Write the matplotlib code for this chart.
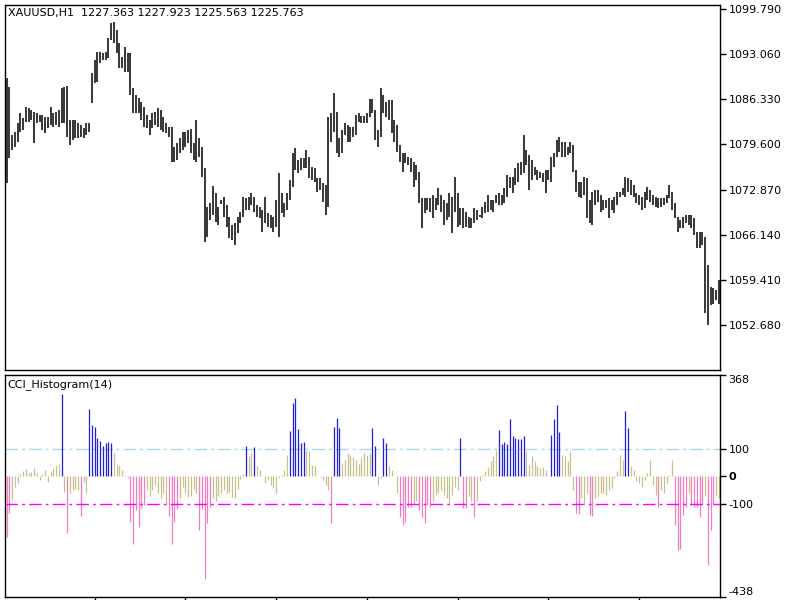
import matplotlib
matplotlib.use('Agg')
import matplotlib.pyplot as plt
import numpy as np

# XAUUSD H1 bars (high / low)
highs = [1089.50, 1088.16, 1081.00, 1081.45, 1082.79, 1084.28, 1083.54, 1085.18, 1085.03, 1084.73,
         1084.43, 1084.28, 1083.98, 1083.98, 1083.69, 1083.69, 1085.18, 1084.28, 1084.43, 1084.73,
         1088.01, 1088.16, 1088.31, 1083.24, 1083.24, 1083.24, 1082.79, 1082.49, 1082.05, 1082.79,
         1082.79, 1090.25, 1092.18, 1093.38, 1093.38, 1093.23, 1093.38, 1095.46, 1097.70, 1097.85,
         1096.66, 1094.72, 1092.63, 1094.12, 1093.23, 1093.23, 1088.01, 1086.97, 1086.52, 1085.92,
         1085.18, 1083.98, 1083.24, 1084.28, 1084.43, 1085.03, 1084.73, 1083.69, 1082.79, 1082.19,
         1082.19, 1079.21, 1079.81, 1080.55, 1081.45, 1081.45, 1081.75, 1081.90, 1079.81, 1083.24,
         1080.55, 1079.21, 1076.08,
         1070.27, 1070.86, 1073.40, 1072.35, 1070.27, 1071.31, 1071.76, 1070.56, 1068.78, 1067.58,
         1067.88, 1068.78, 1069.52, 1071.76, 1071.61, 1071.76, 1072.35, 1071.76, 1070.56, 1070.27,
         1069.82, 1071.76, 1069.37, 1069.07, 1068.78, 1071.31, 1075.34, 1072.35, 1070.86, 1072.35,
         1074.29, 1078.32, 1079.06, 1077.27, 1077.57, 1077.57, 1078.77, 1077.72, 1076.23, 1076.08,
         1074.59, 1074.59, 1073.85, 1073.55, 1083.69, 1084.28, 1087.26, 1084.43, 1080.55, 1081.75,
         1082.79, 1082.49, 1082.19, 1082.19, 1083.98, 1084.28, 1083.83, 1083.83, 1084.28, 1086.37,
         1086.37, 1084.73, 1081.75, 1088.01, 1086.97, 1085.92, 1086.22, 1086.22, 1083.24, 1082.49,
         1079.51, 1078.32, 1078.32, 1077.72, 1077.57, 1076.98, 1076.53, 1075.49, 1071.61, 1071.61,
         1071.61, 1071.61, 1072.05, 1071.61, 1073.10, 1072.05, 1071.31, 1070.86, 1072.35, 1071.76,
         1074.74, 1072.35, 1070.12, 1070.12, 1069.52, 1068.78, 1068.63, 1070.12, 1069.82, 1069.07,
         1070.27, 1071.01, 1072.05, 1071.31, 1071.31, 1072.05, 1072.35, 1072.05, 1073.10, 1075.04,
         1074.74, 1074.74, 1076.08, 1076.83, 1076.98, 1081.00, 1078.77, 1078.02, 1077.27, 1076.23,
         1075.78, 1075.49, 1075.34, 1075.78, 1075.78, 1077.72, 1078.32, 1080.26, 1080.70, 1079.96,
         1079.96, 1079.21, 1079.96, 1079.51, 1075.78, 1073.99, 1073.99, 1074.74, 1074.59, 1071.31,
         1072.50, 1072.80, 1072.80, 1072.05, 1071.31, 1071.31, 1071.61, 1071.31, 1071.76, 1072.50,
         1072.50, 1073.10, 1074.74, 1074.59, 1074.29, 1073.55, 1072.35, 1072.05, 1071.76, 1072.50,
         1073.25, 1072.80, 1072.05, 1071.76, 1071.61, 1071.61, 1071.61, 1072.05, 1073.55, 1072.50,
         1070.86, 1068.78, 1068.33, 1068.78, 1069.07, 1069.07, 1069.07, 1068.63, 1066.54, 1066.54,
         1066.54, 1065.79, 1061.62, 1058.34, 1058.19, 1057.89, 1059.38]
lows = [1073.84, 1077.57, 1078.77, 1079.21, 1079.96, 1081.45, 1081.75, 1082.94, 1082.94, 1083.24,
        1079.81, 1082.79, 1082.94, 1081.75, 1081.30, 1082.05, 1082.49, 1082.19, 1082.49, 1082.19,
        1082.79, 1082.79, 1080.70, 1079.51, 1080.26, 1080.55, 1080.55, 1080.70, 1080.55, 1081.00,
        1081.45, 1085.77, 1088.76, 1088.90, 1091.74, 1092.18, 1092.18, 1092.48, 1095.17, 1094.72,
        1093.23, 1090.99, 1090.99, 1090.40, 1090.40, 1086.97, 1084.28, 1084.28, 1084.28, 1083.24,
        1082.19, 1082.05, 1081.00, 1082.05, 1082.49, 1082.19, 1081.75, 1081.45, 1081.30, 1080.70,
        1076.98, 1076.98, 1077.27, 1078.32, 1078.77, 1079.21, 1079.81, 1078.32, 1077.27, 1076.98,
        1077.72, 1074.74, 1065.05,
        1065.79, 1068.33, 1069.07, 1068.03, 1067.58, 1070.71, 1068.78, 1067.28, 1065.64, 1065.35,
        1064.60, 1066.39, 1067.88, 1068.78, 1069.82, 1069.82, 1070.56, 1069.52, 1068.78, 1068.63,
        1066.54, 1067.88, 1067.28, 1067.13, 1066.54, 1067.28, 1065.79, 1069.37, 1068.78, 1069.82,
        1071.31, 1073.25, 1075.78, 1075.34, 1075.78, 1076.08, 1076.08, 1074.59, 1074.29, 1073.99,
        1072.50, 1072.80, 1071.01, 1069.07, 1070.27, 1079.96, 1081.45, 1078.32, 1077.72, 1078.32,
        1081.00, 1079.96, 1079.96, 1080.70, 1081.00, 1082.94, 1082.79, 1082.79, 1082.79, 1083.69,
        1084.28, 1080.26, 1079.21, 1080.70, 1084.28, 1083.69, 1083.24, 1081.30, 1079.96, 1078.47,
        1076.98, 1075.49, 1076.83, 1076.53, 1075.49, 1073.25, 1074.29, 1070.86, 1067.13, 1069.37,
        1069.82, 1069.52, 1068.63, 1069.82, 1070.56, 1069.52, 1067.58, 1068.33, 1068.78, 1066.39,
        1069.52, 1067.28, 1067.58, 1067.13, 1067.28, 1067.13, 1067.13, 1067.88, 1068.33, 1068.78,
        1068.63, 1069.37, 1069.52, 1069.82, 1069.52, 1070.86, 1070.56, 1070.56, 1070.86, 1071.76,
        1073.10, 1072.35, 1073.55, 1073.99, 1075.04, 1075.34, 1076.53, 1072.80, 1074.29, 1075.04,
        1074.29, 1074.59, 1073.99, 1072.35, 1074.29, 1073.99, 1076.23, 1077.72, 1078.47, 1077.72,
        1077.72, 1078.02, 1078.32, 1075.49, 1072.50, 1071.76, 1071.61, 1072.05, 1068.63, 1067.88,
        1067.58, 1070.56, 1071.01, 1069.52, 1069.82, 1070.12, 1068.63, 1069.82, 1069.37, 1070.56,
        1071.76, 1072.05, 1071.76, 1072.50, 1072.05, 1071.76, 1070.86, 1070.56, 1069.82, 1070.12,
        1071.31, 1071.01, 1070.56, 1070.27, 1070.12, 1070.27, 1070.56, 1070.86, 1071.61, 1069.82,
        1068.63, 1066.54, 1067.13, 1067.13, 1067.88, 1067.58, 1067.13, 1066.09, 1064.15, 1064.15,
        1064.60, 1054.46, 1052.67, 1055.66, 1055.87, 1056.40, 1055.87]

# CCI(14) histogram values, one per bar
cci = [-220, -134, -85, -37, -24, 10, 18, 28, 12, 15, 30, 12, -15, 8, 22, -20, 18, 30, 40, 45,
       299, -55, -207, -60, -50, -45, -50, -143, -20, -61,
       246, 185, 180, 140, 128, 110, 120, 124, 122,
       85, 43, 37, 24, 6, -6,
       -165, -244, -122, -183, -115, -105, -50, -70, -50, -30, -60, -80, -60, -100,
       -145, -245, -165, -120, -80, -40, -60, -75, -70, -45, -60, -195, -120, -372, -170,
       -110, -80, -90, -70, -60, -50, -60, -55, -75, -80, -45, -10,
       10, 112, 73, 85, 107, 37, 24, 0, -24, -12, -30, -43, -61, -6, 6, 24, 79, 165,
       268, 283, 171, 120, 124, 91, 91, 43, 39, 0, -2, -12, -30, -49, -171, 180, 211, 174, 49, 61,
       83, 76, 71, 61, 46, 67, 85, 79, 85, 176, 112, -30, -6, 140, 122, 37, 24, 2, -60,
       -146, -177, -165, -110, -112, -100, -91, -122, -146, -171, -104, -110, -91, -67,
       -61, -49, -67, -79, -98, -67, -37, -49, 140, -116, -116, -73, -91, -146, -91, -18, 5,
       20, 35, 55, 75, 95, 167, 116, 124, 116, 207,
       146, 140, 137, 134, 146, 91, 43, 73, 55, 37, 30, 34, 24, 2, 149, 207, 259, 161, 79,
       73, 55, 91, -49, -134, -137, -79, -100, -61, -140, -144, -79, -73, -61, -61, -67, -49,
       -43, -6, 18, 79, 61, 238, 177, 37, 24, -18, -24, -37, -12, 12, 61, -30, -67, -110, -49,
       -61, -24, 6, 61, -177, -268, -262, -140, -110, -61, -104, -110, -110, -146, -104,
       -73, -323, -195, -104, -73, -79]

price_ticks = [1099.790, 1093.060, 1086.330, 1079.600, 1072.870, 1066.140, 1059.410, 1052.680]
price_range = (1045.96, 1100.38)
cci_ticks = [368, 100, 0, -100, -438]
cci_levels = [100, -100]
header = 'XAUUSD,H1  1227.363 1227.923 1225.563 1225.763'
sub_title = 'CCI_Histogram(14)'

W, H = 800, 600
fig = plt.figure(figsize=(8, 6), dpi=100)
fig.patch.set_facecolor('white')

ax1 = fig.add_axes([5 / W, 1 - 370 / H, 715 / W, 365 / H])
ax2 = fig.add_axes([5 / W, 1 - 597 / H, 715 / W, 222 / H], sharex=ax1)

# price bars
n = len(highs)
x = np.arange(n)
ax1.vlines(x, lows, highs, color='black', lw=1.1)
ax1.set_xlim(-0.6, n - 0.6)
ax1.set_ylim(*price_range)
ax1.yaxis.tick_right()
ax1.set_yticks(price_ticks)
ax1.set_yticklabels([f'{p:.3f}' for p in price_ticks])
ax1.tick_params(axis='x', length=0, labelbottom=False)
ax1.text(0.004, 0.992, header, transform=ax1.transAxes, va='top', ha='left', fontsize=8)

# CCI histogram
xc = np.arange(len(cci))
cols = ['#1f1fdc' if v > 100 else ('#f47cc0' if v < -100 else '#c8c08a') for v in cci]
ax2.vlines(xc, 0, cci, colors=cols, lw=0.9)
ax2.axhline(cci_levels[0], color='#a9d8ec', lw=1, ls=(0, (9, 3, 2, 3)), zorder=0)
ax2.axhline(cci_levels[1], color='#ff00ff', lw=1, ls=(0, (9, 3, 2, 3)), zorder=3)
ax2.set_ylim(cci_ticks[-1], cci_ticks[0])
ax2.yaxis.tick_right()
ax2.set_yticks(cci_ticks)
ax2.set_yticklabels([str(t) for t in cci_ticks])
labels = ax2.get_yticklabels()
labels[0].set_va('top')
labels[-1].set_va('bottom')
labels[2].set_fontweight('bold')
ax2.set_xticks(np.arange(32, n, 33))
ax2.tick_params(axis='x', labelbottom=False)
ax2.text(0.004, 0.98, sub_title, transform=ax2.transAxes, va='top', ha='left', fontsize=8)

for ax in (ax1, ax2):
    for s in ax.spines.values():
        s.set_color('black')
        s.set_linewidth(1)
    ax.tick_params(axis='y', direction='out', length=4, width=1, labelsize=8, pad=2)
ax2.tick_params(axis='x', direction='out', length=3, width=1)

fig.savefig('out.png', dpi=100)
